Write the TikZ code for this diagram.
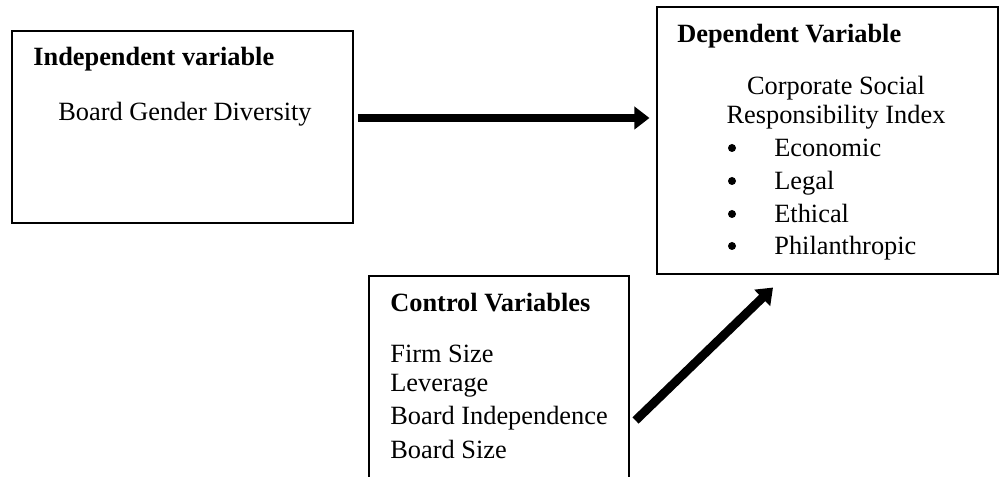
\documentclass[tikz,border=0pt]{standalone}
\usepackage{fontspec}
\setmainfont{Liberation Serif}
\usetikzlibrary{arrows.meta}

\tikzstyle{box}=[draw=black, line width=0.6pt, inner sep=0pt]
\tikzstyle{txt}=[inner sep=0pt, anchor=base west, font=\fontsize{15}{18}\selectfont]
\tikzstyle{heading}=[txt, font=\fontsize{15}{18}\selectfont\bfseries]
\tikzstyle{dot}=[circle, fill=black, inner sep=0pt, minimum size=0.16cm]
\tikzstyle{bigArrow}=[line width=5pt, -{Triangle[length=0.3cm, width=0.44cm]}]

\begin{document}
\begin{tikzpicture}

	\clip (0,0) rectangle (20,-9.54);

	% Kaesten
	\node(indep) at (3.65,-2.54) [box, minimum width=6.82cm, minimum height=3.84cm] {};
	\node(dep) at (16.55,-2.81) [box, minimum width=6.82cm, minimum height=5.34cm] {};
	\node(ctrl) at (9.98,-7.76) [box, minimum width=5.2cm, minimum height=4.48cm] {};

	% Unabhaengige Variable
	\node(indepTitle) at (0.66,-1.32) [heading] {Independent variable};
	\node(indepText) at (3.70,-2.42) [txt, anchor=base] {Board Gender Diversity};

	% Abhaengige Variable
	\node(depTitle) at (13.54,-0.86) [heading] {Dependent Variable};
	\node(depLineA) at (16.72,-1.90) [txt, anchor=base] {Corporate Social};
	\node(depLineB) at (16.72,-2.48) [txt, anchor=base] {Responsibility Index};
	\foreach \y/\item in {-3.14/Economic, -3.80/Legal, -4.46/Ethical, -5.10/Philanthropic}
		{
			\node(dot\item) at (14.64,\y+0.18) [dot] {};
			\node(dim\item) at (15.48,\y) [txt] {\item};
		}

	% Kontrollvariablen
	\node(ctrlTitle) at (7.80,-6.24) [heading] {Control Variables};
	\foreach \y/\item [count=\i] in {-7.26/Firm Size, -7.84/Leverage, -8.50/Board Independence, -9.18/Board Size}
		{
			\node(ctrlItem\i) at (7.80,\y) [txt] {\item};
		}

	% Pfeile
	\draw[bigArrow, shorten <=0.08cm, shorten >=0.14cm] ([yshift=0.18cm]indep.east) -- ([yshift=0.18cm]indep.east -| dep.west);
	\draw[bigArrow] ([shift={(0.12,-2.9)}]ctrl.north east) -- ([shift={(-1.09,-0.26)}]dep.south);

\end{tikzpicture}
\end{document}
